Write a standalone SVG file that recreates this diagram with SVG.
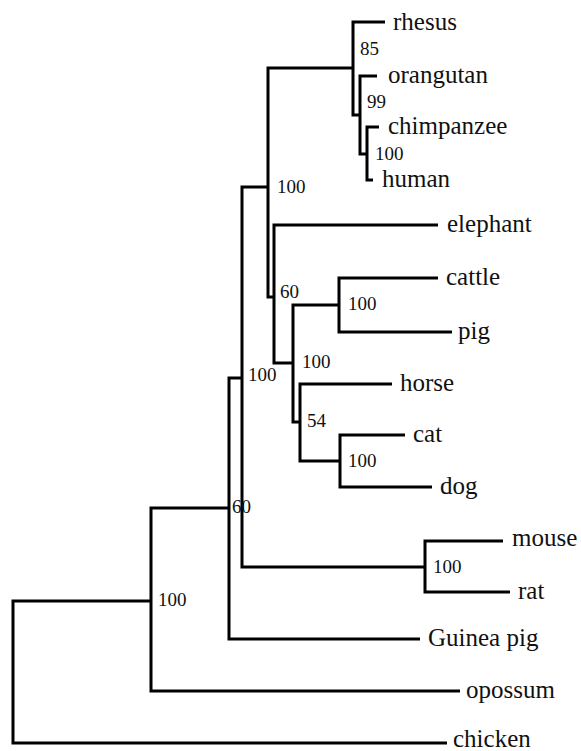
<svg xmlns="http://www.w3.org/2000/svg" width="581" height="751" viewBox="0 0 581 751">
<style>
.br{fill:none;stroke:#000;stroke-width:3;stroke-linejoin:miter;stroke-linecap:butt}
.leaf{font-family:"Liberation Serif","Times New Roman",serif;font-size:25px;fill:#111}
.bs{font-family:"Liberation Serif","Times New Roman",serif;font-size:19px;fill:#111}
</style>
<rect width="581" height="751" fill="#fff"/>
<g id="connectors">
<path class="br" d="M151 601 H13 V743 H447"/>
<path class="br" d="M229 508 H151 V691 H460"/>
<path class="br" d="M242 378 H229 V639 H420"/>
<path class="br" d="M268 187 H242 V567 H425"/>
<path class="br" d="M353 68 H268 V297 H274"/>
<path class="br" d="M438 225 H274 V363 H293"/>
<path class="br" d="M339 305 H293 V422 H300"/>
<path class="br" d="M438 278 H339 V332 H452"/>
<path class="br" d="M392 384 H300 V461 H340"/>
<path class="br" d="M405 435 H340 V487 H432"/>
<path class="br" d="M503 541 H425 V592 H510"/>
<path class="br" d="M385 22 H353 V115 H360"/>
<path class="br" d="M377 76 H360 V154 H367"/>
<path class="br" d="M379 127 H367 V180 H373"/>
</g>
<g id="leaf-rhesus"><text class="leaf" x="393" y="30">rhesus</text></g>
<g id="leaf-orangutan"><text class="leaf" x="388" y="83">orangutan</text></g>
<g id="leaf-chimpanzee"><text class="leaf" x="388" y="134">chimpanzee</text></g>
<g id="leaf-human"><text class="leaf" x="382" y="187">human</text></g>
<g id="leaf-elephant"><text class="leaf" x="447" y="232">elephant</text></g>
<g id="leaf-cattle"><text class="leaf" x="446" y="285">cattle</text></g>
<g id="leaf-pig"><text class="leaf" x="458" y="339">pig</text></g>
<g id="leaf-horse"><text class="leaf" x="400" y="391">horse</text></g>
<g id="leaf-cat"><text class="leaf" x="413" y="442">cat</text></g>
<g id="leaf-dog"><text class="leaf" x="440" y="494">dog</text></g>
<g id="leaf-mouse"><text class="leaf" x="512" y="546">mouse</text></g>
<g id="leaf-rat"><text class="leaf" x="518" y="599">rat</text></g>
<g id="leaf-guineapig"><text class="leaf" x="428" y="646">Guinea pig</text></g>
<g id="leaf-opossum"><text class="leaf" x="466" y="698">opossum</text></g>
<g id="leaf-chicken"><text class="leaf" x="453" y="747">chicken</text></g>
<g id="node-primates"><text class="bs" x="360" y="55">85</text></g>
<g id="node-hominids"><text class="bs" x="367" y="108">99</text></g>
<g id="node-chimp-human"><text class="bs" x="375" y="160">100</text></g>
<g id="node-euarchonto"><text class="bs" x="277" y="193">100</text></g>
<g id="node-elephant-laur"><text class="bs" x="280" y="298">60</text></g>
<g id="node-cattle-pig"><text class="bs" x="348" y="310">100</text></g>
<g id="node-laurasia"><text class="bs" x="302" y="368">100</text></g>
<g id="node-boreo"><text class="bs" x="248" y="381">100</text></g>
<g id="node-horse-carn"><text class="bs" x="307" y="427">54</text></g>
<g id="node-cat-dog"><text class="bs" x="348" y="467">100</text></g>
<g id="node-eutheria"><text class="bs" x="232" y="513">60</text></g>
<g id="node-mouse-rat"><text class="bs" x="433" y="573">100</text></g>
<g id="node-mammals"><text class="bs" x="158" y="606">100</text></g>
</svg>
